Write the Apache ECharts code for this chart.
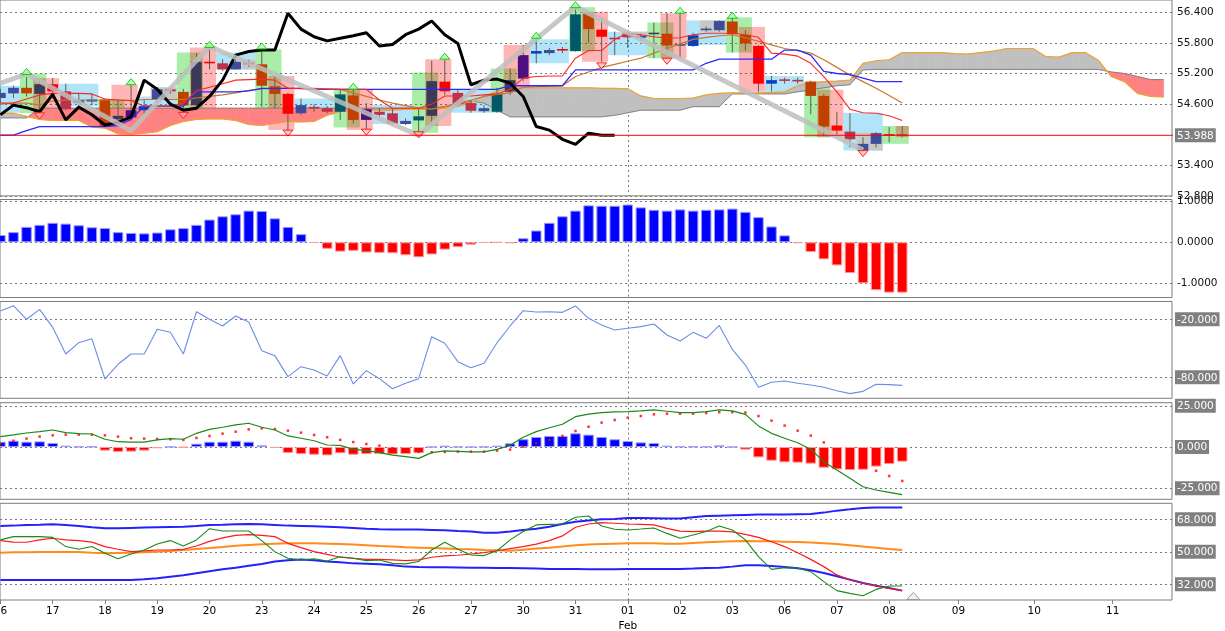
<!DOCTYPE html>
<html>
<head>
<meta charset="utf-8">
<title>Ichimoku chart</title>
<script src="https://cdn.jsdelivr.net/npm/echarts@6/dist/echarts.min.js"></script>
<style>
html,body{margin:0;padding:0;background:#ffffff;overflow:hidden;}
#chart{width:1225px;height:631px;}
</style>
</head>
<body>
<div id="chart"></div>
<script>
// ================= DATA (bar slot index = position on the time axis) =================
const xLabelSlots = [0,4,8,12,16,20,24,28,32,36,40,44,48,52,56,60,64,68,73.3,79.1,85.1];
const xLabelTexts = ['16','17','18','19','20','23','24','25','26','27','30','31','01','02','03','06','07','08','09','10','11'];
const monthLabels = {'01':'Feb'};
const separatorSlot = 48;

const priceTicks = [56.4,55.8,55.2,54.6,53.4,52.8];
const currentPrice = 53.988;
const oscTicks = [1,0,-1];
const wprTicks = [-20,-80];
const macdTicks = [25,0,-25];
const rsiTicks = [68,50,32];

const open = [54.72,54.81,54.92,54.80,54.99,54.85,54.62,54.65,54.69,54.30,54.34,54.48,54.70,54.89,54.84,54.58,55.43,55.40,55.28,55.42,55.38,54.95,54.80,54.42,54.54,54.52,54.45,54.77,54.29,54.45,54.42,54.21,54.28,54.37,55.04,54.82,54.62,54.46,54.45,54.84,55.10,55.59,55.60,55.67,55.64,56.38,56.06,55.89,55.98,55.90,55.97,55.98,55.75,55.74,56.06,56.05,56.22,55.96,55.74,55.00,55.08,55.07,55.04,54.76,54.18,54.06,53.70,53.82,54.00,54.00];
const close = [54.82,54.92,54.81,54.99,54.85,54.50,54.68,54.69,54.17,54.37,54.48,54.56,54.89,54.85,54.57,55.43,55.40,55.28,55.43,55.38,54.96,54.80,54.41,54.58,54.52,54.45,54.79,54.29,54.50,54.39,54.22,54.27,54.36,55.05,54.85,54.60,54.47,54.52,54.80,55.07,55.56,55.64,55.66,55.66,56.36,56.07,55.92,55.88,55.91,55.94,56.00,55.75,55.77,55.95,56.07,56.23,55.97,55.79,55.00,55.07,55.06,55.05,54.76,54.16,54.08,53.91,53.82,54.03,53.99,53.988];
const high = [54.90,54.96,55.13,55.10,55.11,55.00,54.80,54.81,54.71,54.68,54.98,54.68,54.93,54.91,54.90,55.60,55.71,55.48,55.55,55.47,55.67,55.15,54.82,54.71,54.60,54.56,54.88,54.88,54.62,54.52,54.50,54.32,54.50,55.45,55.48,54.88,54.68,54.58,54.92,55.30,55.76,55.87,55.70,55.72,56.50,56.41,56.30,56.02,56.00,55.98,56.20,56.38,56.38,56.00,56.12,56.24,56.30,56.05,55.76,55.15,55.12,55.12,55.06,54.80,54.45,54.42,53.95,54.05,54.15,54.17];
const low = [54.62,54.72,54.75,54.45,54.70,54.48,54.56,54.58,54.16,54.16,54.28,54.40,54.62,54.80,54.52,54.55,55.28,55.25,55.28,55.33,54.55,54.52,54.06,54.39,54.45,54.42,54.29,54.22,54.09,54.33,54.21,54.19,54.04,54.20,54.78,54.55,54.43,54.43,54.43,54.78,55.05,55.40,55.56,55.60,55.63,55.80,55.43,55.56,55.70,55.85,55.50,55.60,55.50,55.72,56.02,56.02,55.61,55.65,54.84,54.85,55.00,55.00,54.40,53.98,53.98,53.75,53.67,53.75,53.85,53.95];
// candle body tone: n navy, b blue, d dark slate, p purple, t teal, o orange, r red, c crimson
const candleTone = ['n','n','o','d','r','c','n','n','o','d','p','b','n','c','o','d','r','c','n','c','o','o','r','n','c','c','t','o','p','c','c','n','t','d','r','c','c','n','t','d','p','b','n','r','t','o','r','c','c','n','d','o','n','b','n','n','o','o','r','b','c','c','o','o','r','c','n','n','r','c'];

const tenkan = [54.62,54.62,54.70,54.78,54.81,54.81,54.81,54.80,54.70,54.68,54.67,54.56,54.56,54.56,54.62,54.86,54.93,55.00,55.07,55.08,55.09,55.07,54.91,54.90,54.89,54.89,54.89,54.89,54.89,54.68,54.52,54.52,54.52,54.60,54.76,54.76,54.76,54.78,54.80,54.89,55.11,55.14,55.15,55.15,55.50,55.65,55.65,55.87,55.99,55.96,55.92,55.89,55.90,55.96,55.99,55.99,55.99,55.96,55.91,55.60,55.58,55.54,55.40,55.14,54.84,54.50,54.43,54.42,54.37,54.28];
const kijun = [53.99,53.99,54.08,54.16,54.16,54.16,54.16,54.16,54.16,54.18,54.30,54.56,54.56,54.56,54.56,54.84,54.84,54.84,54.84,54.86,54.91,54.91,54.91,54.91,54.89,54.89,54.89,54.89,54.89,54.89,54.89,54.89,54.89,54.89,54.89,54.89,54.89,54.89,54.89,54.96,54.96,54.96,54.96,54.96,55.27,55.27,55.27,55.27,55.27,55.27,55.27,55.27,55.27,55.27,55.40,55.48,55.48,55.48,55.48,55.48,55.66,55.66,55.56,55.24,55.20,55.18,55.11,55.04,55.04,55.04];
const slowAverage = [54.60,54.62,54.62,54.58,54.66,54.68,54.68,54.68,54.68,54.68,54.67,54.69,54.69,54.69,54.69,54.72,54.75,54.78,54.82,54.87,54.90,54.91,54.91,54.91,54.91,54.90,54.89,54.82,54.75,54.68,54.62,54.57,54.52,54.50,54.55,54.62,54.68,54.75,54.79,54.82,54.93,54.94,54.95,54.96,55.14,55.23,55.32,55.38,55.44,55.50,55.60,55.69,55.78,55.87,55.91,55.94,55.96,55.90,55.83,55.76,55.69,55.65,55.60,55.47,55.32,55.17,55.04,54.91,54.77,54.62];
const spanA = [54.42,54.42,54.36,54.30,54.28,54.28,54.28,54.15,54.13,54.02,54.01,54.03,54.06,54.18,54.26,54.30,54.31,54.31,54.28,54.20,54.18,54.22,54.26,54.25,54.26,54.38,54.46,54.48,54.48,54.48,54.48,54.50,54.50,54.50,54.52,54.56,54.63,54.75,54.85,54.91,54.92,54.92,54.92,54.92,54.92,54.92,54.91,54.91,54.90,54.76,54.71,54.71,54.71,54.72,54.78,54.81,54.82,54.82,54.82,54.83,54.84,54.96,55.02,55.04,55.05,55.07,55.40,55.45,55.47,55.61,55.61,55.61,55.61,55.59,55.58,55.61,55.64,55.69,55.69,55.69,55.53,55.52,55.61,55.61,55.46,55.14,55.04,54.81,54.75,54.74];
const spanB = [54.33,54.33,54.33,54.52,54.52,54.52,54.52,54.52,54.52,54.52,54.52,54.52,54.52,54.52,54.52,54.52,54.52,54.52,54.52,54.52,54.52,54.52,54.52,54.52,54.52,54.52,54.52,54.52,54.52,54.52,54.52,54.52,54.52,54.52,54.55,54.60,54.66,54.62,54.48,54.35,54.35,54.35,54.35,54.35,54.35,54.35,54.35,54.38,54.43,54.48,54.48,54.48,54.48,54.55,54.55,54.55,54.80,54.80,54.80,54.80,54.80,54.84,54.88,54.92,54.96,54.98,55.27,55.28,55.28,55.28,55.28,55.28,55.28,55.28,55.28,55.28,55.28,55.28,55.28,55.28,55.28,55.28,55.28,55.28,55.28,55.23,55.20,55.14,55.08,55.08];
const chikou = [54.39,54.58,54.53,54.45,54.79,54.29,54.54,54.39,54.19,54.24,54.35,55.07,54.89,54.60,54.48,54.52,54.75,55.07,55.56,55.63,55.66,55.66,56.38,56.07,55.92,55.84,55.89,55.94,56.00,55.74,55.77,55.96,56.07,56.23,55.96,55.79,54.98,55.07,55.09,55.01,54.75,54.16,54.09,53.91,53.81,54.03,53.99,53.988];
const zigzag = [[0,55.01],[2,55.19],[10,54.08],[16,55.73],[32,53.99],[44,56.51],[66,53.70]];

// highlight boxes: [fromSlot, toSlot, top, bottom]
const blueBoxes = [[-1,1,54.96,54.43],[5,7,55.00,54.56],[11,13,54.75,54.22],[17,19,55.61,55.28],[23,25,54.71,54.39],[29,31,54.58,54.21],[35,37,54.88,54.43],[41,43,55.87,55.40],[47,49,56.02,55.56],[53,55,56.24,55.76],[59,61,55.15,54.84],[65,67,54.43,53.69]];
const grayBoxes = [[12,13,54.93,54.70],[19,19,55.47,55.28],[48,49,56.02,55.90],[54,55,56.24,56.02],[66,67,54.04,53.69]];
const greenBoxes = [[2,3,55.20,54.42],[8,9,54.69,54.16],[14,15,55.61,54.52],[20,21,55.67,54.52],[26,27,54.88,54.14],[32,33,55.22,54.04],[38,39,55.30,54.43],[44,45,56.50,55.63],[50,51,56.20,55.50],[56,57,56.30,55.61],[62,63,55.04,53.95],[68,69,54.17,53.82]];
const pinkBoxes = [[3,4,55.11,54.42],[9,10,54.98,54.16],[15,16,55.71,54.52],[21,22,55.15,54.09],[27,28,54.88,54.09],[33,34,55.48,54.17],[39,40,55.76,54.78],[45,46,56.41,55.43],[51,52,56.38,55.50],[57,58,56.11,54.84],[63,64,54.88,53.95],[69,69,54.17,53.95]];
const upArrows = [[2,55.24],[10,55.04],[16,55.77],[20,55.74],[27,54.95],[34,55.54],[41,55.95],[44,56.55],[52,56.44],[56,56.34]];
const downArrows = [[3,54.37],[14,54.38],[22,54.03],[28,54.05],[32,54.00],[46,55.35],[51,55.44],[66,53.63]];

const oscillator = [0.18,0.25,0.38,0.43,0.48,0.46,0.42,0.37,0.35,0.25,0.23,0.22,0.24,0.32,0.35,0.43,0.56,0.64,0.69,0.78,0.77,0.59,0.38,0.20,-0.01,-0.16,-0.23,-0.21,-0.25,-0.26,-0.27,-0.32,-0.37,-0.30,-0.18,-0.12,-0.06,-0.01,-0.005,-0.02,0.10,0.29,0.48,0.64,0.78,0.91,0.90,0.90,0.93,0.86,0.80,0.78,0.81,0.78,0.80,0.81,0.83,0.75,0.62,0.39,0.17,-0.02,-0.24,-0.42,-0.57,-0.76,-1.01,-1.18,-1.24,-1.24];
const williams = [-11.4,-5.9,-20,-9.7,-28.3,-55.9,-44.2,-40.1,-81.7,-66.5,-55.9,-55.9,-30.3,-33.4,-55.9,-12.2,-20,-26.9,-16.6,-22.8,-52.5,-57.6,-79.3,-69.0,-72.4,-78.6,-57.6,-86.9,-73.1,-81.4,-91.8,-86.2,-81.4,-38.0,-44.8,-63.8,-70.0,-65.5,-44.2,-26.9,-11.1,-12.5,-12.2,-12.8,-6.2,-19.0,-25.9,-31.1,-29.3,-27.6,-24.9,-36.2,-42.4,-33.5,-39.7,-26.3,-51.0,-67.3,-90.3,-85.1,-83.8,-86.2,-87.9,-90.3,-93.8,-96.9,-94.5,-87.2,-87.6,-88.3];
const macdHist = [3.2,3.8,3.2,3.4,2.4,0.8,0.2,0.2,-2.2,-3.0,-2.8,-2.2,-0.8,0.1,-0.3,2.0,3.2,3.2,3.8,3.2,1.0,-0.5,-3.6,-4.3,-4.7,-5.1,-3.8,-4.7,-4.3,-4.3,-4.5,-4.3,-3.8,0.0,0.8,0.2,0.0,0.1,0.8,2.2,4.7,6.1,6.7,6.7,8.3,7.5,6.1,4.7,3.6,2.8,2.4,0.8,0.2,0.2,0.2,1.0,0.0,-1.6,-6.3,-8.3,-9.3,-9.5,-10.1,-12.6,-13.6,-14.0,-13.8,-11.9,-10.3,-8.9];
const macdMain = [6.3,7.3,8.5,9.3,10.3,8.7,8.1,7.9,4.7,3.2,3.0,3.0,4.3,5.1,4.7,8.3,10.7,12.0,13.4,14.4,12.0,10.3,6.7,5.3,3.8,1.2,1.0,-1.4,-2.2,-3.4,-4.9,-5.9,-6.9,-3.4,-2.4,-2.6,-3.0,-3.0,-1.4,1.0,5.9,9.3,11.7,13.8,18.4,20.0,20.9,21.3,21.5,21.9,22.5,21.7,20.9,20.9,21.5,22.5,21.9,19.8,12.8,8.3,5.3,2.6,-1.4,-8.9,-14.0,-19.0,-24.1,-26.1,-27.5,-28.9];
const macdSignal = [1.8,3.8,5.1,6.3,7.1,7.5,7.5,7.5,7.1,6.3,5.3,5.1,4.9,4.7,4.3,5.5,6.7,8.1,9.3,10.7,11.3,10.9,9.9,8.7,7.3,5.9,4.3,3.0,1.8,0.8,-0.8,-2.4,-2.8,-3.2,-3.0,-2.8,-2.8,-2.8,-2.2,-1.6,0.2,2.2,4.3,6.7,9.7,12.3,14.8,16.4,17.8,18.8,19.8,20.2,20.2,20.2,20.6,21.1,21.1,20.9,18.8,16.0,13.0,9.9,6.9,2.8,-1.4,-5.9,-10.3,-14.4,-17.6,-20.6];
const bandUpper = [64.3,64.5,64.9,65.0,65.2,64.9,64.3,63.6,63.0,63.0,63.2,63.4,63.6,63.8,63.9,64.3,64.9,65.0,65.2,65.4,65.2,64.9,64.5,64.3,64.1,63.9,63.6,63.2,62.8,62.5,62.3,62.3,62.3,62.1,61.9,61.5,61.2,60.6,60.6,61.2,62.1,62.8,63.9,65.4,66.7,67.4,68.0,68.2,68.7,68.7,68.6,68.4,68.4,69.1,69.8,70.0,70.2,70.4,70.6,70.6,70.6,70.8,71.0,71.7,72.8,73.5,74.3,74.6,74.6,74.6];
const bandMiddle = [49.5,49.7,49.7,49.9,49.9,49.9,49.9,49.5,49.2,49.4,49.5,49.7,50.1,50.5,51.0,51.6,52.1,52.7,53.4,53.8,54.2,54.5,54.7,54.7,54.7,54.5,54.3,54.0,53.6,53.2,52.9,52.5,52.3,52.1,51.9,51.6,51.4,51.0,50.8,50.6,51.2,51.8,52.3,52.9,53.6,54.0,54.3,54.5,54.7,54.7,54.7,54.5,54.5,54.9,55.3,55.6,55.8,56.0,55.8,55.8,55.6,55.4,55.1,54.7,54.3,53.6,52.9,52.3,51.6,51.0];
const bandLower = [34.4,34.4,34.4,34.4,34.4,34.4,34.4,34.4,34.4,34.4,34.4,34.8,35.3,36.2,37.0,38.1,39.2,40.3,41.2,42.3,43.3,44.6,45.3,45.8,45.3,44.7,44.2,43.6,43.4,43.1,42.5,41.8,41.6,41.5,41.4,41.3,41.2,41.2,41.0,41.0,40.9,40.7,40.5,40.5,40.5,40.3,40.3,40.4,40.5,40.5,40.5,40.5,40.5,40.7,41.0,41.2,41.8,42.6,42.6,42.2,41.6,40.9,39.8,38.3,36.5,34.6,32.7,31.2,30.0,28.5];
const rsiSmooth = [56.2,55.4,55.3,56.6,57.5,56.6,56.2,55.4,52.9,51.4,50.1,50.5,51.0,51.0,51.4,53.2,55.8,57.7,59.1,59.5,59.1,58.4,54.7,52.3,50.1,48.6,47.0,46.4,45.8,45.8,45.5,45.1,45.5,47.0,47.7,48.1,48.8,49.5,50.6,51.8,52.9,54.3,56.2,58.8,63.6,65.4,66.2,65.8,65.4,65.2,64.9,63.0,61.5,61.2,61.4,61.5,61.0,59.7,58.0,55.6,52.9,49.5,45.8,41.8,37.2,34.4,32.6,31.1,29.8,28.5];
const rsiLine = [56.6,58.4,58.4,58.4,58.0,52.9,51.4,52.9,49.2,46.2,48.8,51.0,54.3,56.2,53.2,56.6,62.8,61.5,61.5,61.5,56.2,50.1,46.4,45.5,46.2,44.9,47.3,46.4,45.1,45.5,43.6,43.3,44.6,51.0,55.3,51.4,48.2,47.9,50.6,56.6,61.2,64.9,65.2,65.4,69.1,69.8,64.3,62.5,62.1,62.6,63.2,60.2,57.5,59.3,61.2,64.3,62.1,56.6,47.3,40.3,41.2,41.0,39.0,33.5,28.5,27.0,25.7,29.2,31.1,31.1];
const shiftMarkerSlot = 69.85;

// ================= STYLE / LAYOUT =================
const FONT = 'DejaVu Sans';
const FS = 10.5;
const XMIN = -0.03, XMAX = 89.64;
const DOT = {type:[2,3], color:'#7a7a7a', width:1};
const panels = [
  {top:0,     height:195.9, min:52.8,   max:56.641},
  {top:199.5, height:98,    min:-1.36,  max:1.054},
  {top:301.5, height:96.8,  min:-101.7, max:-1.59},
  {top:402.7, height:96.6,  min:-31.74, max:26.88},
  {top:503.3, height:96.7,  min:23.32,  max:76.86}
];
const toneKeys = ['n','b','d','p','t','o','r','c'];
const toneColors = ['#3f4c9a','#0a40c0','#3c3a58','#4a1080','#00586a','#c04000','#ff0000','#c0304a'];
const boxColors = ['rgba(0,165,235,0.30)','#c8c8c8','rgba(0,205,0,0.34)','rgba(255,0,0,0.29)'];
const CLOUD_UP = '#c0c0c0', CLOUD_DN = '#ff8282';

const grids = panels.map(p => ({
  left:0, width:1172, top:p.top, height:p.height,
  show:true, borderColor:'#7c7c7c', borderWidth:1, backgroundColor:'#ffffff',
  containLabel:false, outerBoundsMode:'none'
}));

const xAxes = panels.map((p,i) => ({
  type:'value', gridIndex:i, min:XMIN, max:XMAX,
  axisLine:{show:false}, axisLabel:{show:false},
  axisTick:{show:false, customValues:[separatorSlot]},
  splitLine:{show:true, lineStyle:DOT}
}));
xAxes[4] = {
  type:'value', gridIndex:4, min:XMIN, max:XMAX, position:'bottom',
  axisLine:{show:false},
  axisTick:{show:true, customValues:xLabelSlots, length:4, lineStyle:{color:'#808080'}},
  axisLabel:{
    show:true, customValues:xLabelSlots, margin:4, color:'#000', fontFamily:FONT, fontSize:FS, lineHeight:15,
    formatter:function(v){
      let idx = -1;
      for (let k=0;k<xLabelSlots.length;k++){ if (Math.abs(xLabelSlots[k]-v)<1e-6){ idx=k; break; } }
      if (idx<0) return '';
      const t = xLabelTexts[idx];
      return monthLabels[t] ? t + '\n' + monthLabels[t] : t;
    }
  },
  splitLine:{show:false}
};
xAxes.push({
  type:'value', gridIndex:4, min:XMIN, max:XMAX, position:'top',
  axisLine:{show:false}, axisLabel:{show:false},
  axisTick:{show:false, customValues:[separatorSlot]},
  splitLine:{show:true, lineStyle:DOT}
});

const rich = {
  t:{color:'#111', fontFamily:FONT, fontSize:FS, padding:[0,0,0,2]},
  box:{color:'#ffffff', backgroundColor:'#808080', fontFamily:FONT, fontSize:FS, padding:[2,2,1,2]}
};
const yTicks = [priceTicks, oscTicks, wprTicks, macdTicks, rsiTicks];
const yLabels = [priceTicks.concat([currentPrice]), oscTicks, wprTicks, macdTicks, rsiTicks];
const yFmt = [
  v => Math.abs(v-currentPrice)<1e-6 ? '{box|'+v.toFixed(3)+'}' : '{t|'+v.toFixed(3)+'}',
  v => '{t|'+v.toFixed(4)+'}',
  v => '{box|'+v.toFixed(3)+'}',
  v => '{box|'+v.toFixed(3)+'}',
  v => '{box|'+v.toFixed(3)+'}'
];
const yAxes = panels.map((p,i) => ({
  type:'value', gridIndex:i, position:'right', min:p.min, max:p.max,
  axisLine:{show:false},
  axisTick:{show:false, customValues:yTicks[i]},
  splitLine:{show:true, lineStyle:DOT},
  axisLabel:{show:true, customValues:yLabels[i], formatter:yFmt[i], rich:rich, margin:3}
}));

// ================= RENDERERS =================
function renderBox(params, api){
  const p1 = api.coord([api.value(0)-0.5, api.value(2)]);
  const p2 = api.coord([api.value(1)+0.5, api.value(3)]);
  return {type:'rect', shape:{x:p1[0], y:p1[1], width:p2[0]-p1[0], height:p2[1]-p1[1]},
          style:{fill:boxColors[api.value(4)]}};
}
function renderCloud(params, api){
  const i = api.value(0), a0 = api.value(1), b0 = api.value(2), a1 = api.value(3), b1 = api.value(4);
  const PA0 = api.coord([i,a0]), PB0 = api.coord([i,b0]), PA1 = api.coord([i+1,a1]), PB1 = api.coord([i+1,b1]);
  const d0 = a0-b0, d1 = a1-b1;
  const col = d => d >= 0 ? CLOUD_UP : CLOUD_DN;
  const poly = (pts,c) => ({type:'polygon', shape:{points:pts}, style:{fill:c, stroke:c, lineWidth:0.6}});
  if (d0*d1 >= 0) return poly([PA0,PA1,PB1,PB0], col(d0+d1));
  const t = d0/(d0-d1);
  const PX = api.coord([i+t, a0+t*(a1-a0)]);
  return {type:'group', children:[poly([PA0,PX,PB0], col(d0)), poly([PX,PA1,PB1], col(d1))]};
}
function renderCandle(params, api){
  const x = api.value(0);
  const pO = api.coord([x, api.value(1)]), pC = api.coord([x, api.value(2)]);
  const pL = api.coord([x, api.value(3)]), pH = api.coord([x, api.value(4)]);
  const w = api.size([1,0])[0]*0.82;
  const raw = Math.abs(pO[1]-pC[1]);
  const h = Math.max(raw, 1.6);
  const top = Math.min(pO[1],pC[1]) - (h-raw)/2;
  return {type:'group', children:[
    {type:'line', shape:{x1:pH[0], y1:pH[1], x2:pL[0], y2:pL[1]}, style:{stroke:'#56634f', lineWidth:1}},
    {type:'rect', shape:{x:pO[0]-w/2, y:top, width:w, height:h}, style:{fill:toneColors[api.value(5)]}}
  ]};
}
function renderArrow(params, api){
  const p = api.coord([api.value(0), api.value(1)]);
  const up = api.value(2) > 0;
  const x = p[0], y = p[1];
  const pts = up ? [[x-5,y+3],[x,y-3],[x+5,y+3]] : [[x-5,y-3],[x,y+3],[x+5,y-3]];
  return {type:'polygon', shape:{points:pts},
          style:{fill: up ? 'rgba(160,255,160,0.7)' : 'rgba(255,180,180,0.7)', stroke: up ? '#12d012' : '#ff2020', lineWidth:1}};
}

// ================= SERIES =================
const idx = arr => arr.map((v,i) => [i,v]);
const boxData = []
  .concat(blueBoxes.map(b => b.concat([0])))
  .concat(grayBoxes.map(b => b.concat([1])))
  .concat(greenBoxes.map(b => b.concat([2])))
  .concat(pinkBoxes.map(b => b.concat([3])));
const cloudData = spanA.slice(0,-1).map((a,i) => [i, a, spanB[i], spanA[i+1], spanB[i+1]]);
const candleData = open.map((o,i) => [i, o, close[i], low[i], high[i], toneKeys.indexOf(candleTone[i])]);
const arrowData = upArrows.map(a => [a[0],a[1],1]).concat(downArrows.map(a => [a[0],a[1],-1]));

function line(data, xi, color, width, z, extra){
  return Object.assign({type:'line', xAxisIndex:xi, yAxisIndex:xi === 5 ? 4 : xi, data:data, symbol:'none',
    lineStyle:{color:color, width:width}, z:z, silent:true, animation:false}, extra||{});
}
function bars(values, xi, pos, neg, posB, negB){
  return {type:'bar', xAxisIndex:xi, yAxisIndex:xi, barWidth:10.5, silent:true, z:3,
    data: values.map((v,i) => ({value:[i,v], itemStyle:{color: v>=0?pos:neg, borderColor: v>=0?posB:negB, borderWidth:1}}))};
}

const series = [
  {type:'custom', xAxisIndex:0, yAxisIndex:0, renderItem:renderBox, data:boxData, encode:{x:[0,1], y:[2,3]}, z:1, silent:true, clip:true},
  {type:'custom', xAxisIndex:0, yAxisIndex:0, renderItem:renderCloud, data:cloudData, encode:{x:0, y:[1,2,3,4]}, z:2, silent:true, clip:true},
  line(idx(spanB), 0, 'rgba(120,120,120,0.85)', 1, 3),
  line(idx(spanA), 0, '#f2a030', 1.2, 3),
  {type:'custom', xAxisIndex:0, yAxisIndex:0, renderItem:renderCandle, data:candleData, encode:{x:0, y:[1,2,3,4]}, z:4, silent:true, clip:true},
  line(idx(slowAverage), 0, '#c8782a', 1.2, 5),
  line(idx(kijun), 0, '#2a2aff', 1.3, 5),
  line(idx(tenkan), 0, '#ff2626', 1.1, 5),
  line(idx(chikou), 0, '#000000', 3, 6),
  line(zigzag, 0, 'rgba(190,190,190,0.85)', 5, 7),
  {type:'custom', xAxisIndex:0, yAxisIndex:0, renderItem:renderArrow, data:arrowData, encode:{x:0, y:1}, z:8, silent:true, clip:true},
  line([[XMIN-1,currentPrice],[XMAX+1,currentPrice]], 0, '#ff0000', 1, 9),

  bars(oscillator, 1, '#0000ff', '#ff0000', '#9a9aff', '#ff9a9a'),

  line(idx(williams), 2, '#6a8ee8', 1.1, 4),

  bars(macdHist, 3, '#0000ff', '#ff0000', '#9a9aff', '#ff9a9a'),
  line(idx(macdMain), 3, '#1a8a1a', 1.2, 5),
  {type:'scatter', xAxisIndex:3, yAxisIndex:3, data:idx(macdSignal), symbol:'rect', symbolSize:2.5,
   itemStyle:{color:'#ff0000'}, z:4, silent:true},

  line(idx(bandUpper), 4, '#2222ff', 2, 4),
  line(idx(bandLower), 4, '#2222ff', 2, 4),
  line(idx(bandMiddle), 4, '#ff8c1a', 2, 4),
  line(idx(rsiSmooth), 4, '#ff1a1a', 1.2, 5),
  line(idx(rsiLine), 4, '#1a8a1a', 1.1, 6)
];

const chart = echarts.init(document.getElementById('chart'), null, {renderer:'canvas', width:1225, height:631});
chart.setOption({
  animation:false,
  backgroundColor:'#ffffff',
  grid:grids,
  xAxis:xAxes,
  yAxis:yAxes,
  series:series
});
const tri = chart.convertToPixel({xAxisIndex:4, yAxisIndex:4}, [shiftMarkerSlot, panels[4].min]);
chart.setOption({graphic:[{type:'polygon', z:100, silent:true,
  shape:{points:[[tri[0]-6.5, tri[1]-0.5],[tri[0], tri[1]-7.5],[tri[0]+6.5, tri[1]-0.5]]},
  style:{fill:'#f2f2f2', stroke:'#9a9a9a', lineWidth:1}}]});
</script>
</body>
</html>
